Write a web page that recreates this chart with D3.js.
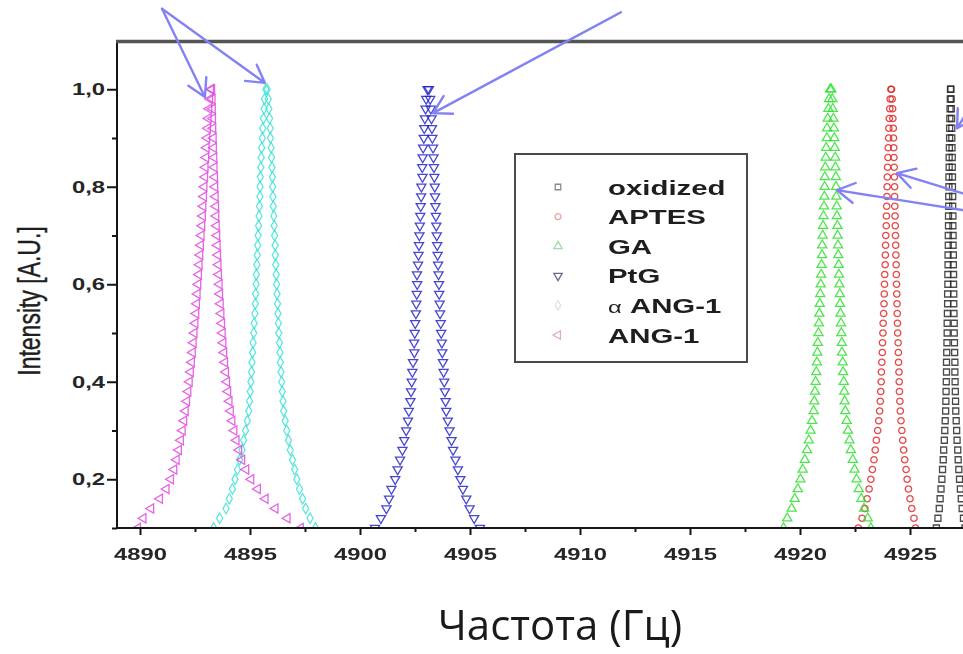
<!DOCTYPE html>
<html>
<head>
<meta charset="utf-8">
<script src="https://cdn.jsdelivr.net/npm/d3@7"></script>
<style>
  body { margin: 0; background: #fff; }
  svg { display: block; }
</style>
</head>
<body>
<div id="chart"></div>
<script>
var intensity = [0.10,0.12,0.14,0.16,0.18,0.20,0.22,0.24,0.26,0.28,0.30,0.32,0.34,0.36,0.38,0.40,
  0.42,0.44,0.46,0.48,0.50,0.52,0.54,0.56,0.58,0.60,0.62,0.64,0.66,0.68,0.70,0.72,0.74,0.76,0.78,
  0.80,0.82,0.84,0.86,0.88,0.90,0.92,0.94,0.96,0.98,1.00];

// frequency (Hz) of the low / high flank at each level
var oxidizedLow = [4926.20,4926.27,4926.33,4926.37,4926.41,4926.45,4926.48,4926.51,4926.53,4926.56,4926.58,4926.60,
  4926.62,4926.63,4926.64,4926.65,4926.66,4926.66,4926.67,4926.68,4926.69,4926.69,4926.70,4926.71,4926.71,4926.72,
  4926.72,4926.73,4926.73,4926.74,4926.74,4926.75,4926.75,4926.76,4926.76,4926.77,4926.77,4926.78,4926.78,4926.79,
  4926.80,4926.80,4926.81,4926.82,4926.83,4926.84];
var oxidizedHigh = [4927.50,4927.43,4927.37,4927.33,4927.29,4927.25,4927.22,4927.19,4927.17,4927.14,4927.12,4927.10,
  4927.08,4927.07,4927.06,4927.05,4927.04,4927.04,4927.03,4927.02,4927.01,4927.01,4927.00,4926.99,4926.99,4926.98,
  4926.98,4926.97,4926.97,4926.96,4926.96,4926.95,4926.95,4926.94,4926.94,4926.93,4926.93,4926.92,4926.92,4926.91,
  4926.90,4926.90,4926.89,4926.88,4926.87,4926.86];

var aptesLow = [4922.65,4922.82,4922.95,4923.05,4923.14,4923.22,4923.29,4923.36,4923.42,4923.47,4923.53,4923.58,
  4923.62,4923.65,4923.67,4923.69,4923.70,4923.72,4923.74,4923.75,4923.77,4923.78,4923.80,4923.82,4923.83,4923.84,
  4923.85,4923.87,4923.88,4923.89,4923.90,4923.92,4923.93,4923.94,4923.95,4923.96,4923.97,4923.98,4924.00,4924.01,
  4924.03,4924.04,4924.06,4924.08,4924.10,4924.13];
var aptesHigh = [4925.25,4925.18,4925.08,4925.00,4924.93,4924.87,4924.82,4924.76,4924.71,4924.67,4924.63,4924.59,
  4924.56,4924.54,4924.52,4924.51,4924.50,4924.48,4924.47,4924.46,4924.44,4924.43,4924.42,4924.41,4924.40,4924.39,
  4924.38,4924.37,4924.36,4924.35,4924.34,4924.33,4924.32,4924.31,4924.30,4924.30,4924.29,4924.28,4924.27,4924.26,
  4924.25,4924.24,4924.22,4924.21,4924.19,4924.16];

var gaLow = [4919.25,4919.42,4919.62,4919.76,4919.90,4920.02,4920.12,4920.22,4920.32,4920.40,4920.48,4920.55,
  4920.62,4920.65,4920.68,4920.71,4920.74,4920.77,4920.79,4920.81,4920.84,4920.86,4920.88,4920.90,4920.92,4920.94,
  4920.96,4920.98,4921.00,4921.01,4921.03,4921.05,4921.07,4921.09,4921.11,4921.12,4921.13,4921.15,4921.17,4921.19,
  4921.22,4921.23,4921.26,4921.29,4921.32,4921.37];
var gaHigh = [4923.22,4923.08,4922.91,4922.79,4922.67,4922.57,4922.48,4922.40,4922.31,4922.25,4922.18,4922.12,
  4922.06,4922.03,4922.01,4921.99,4921.96,4921.94,4921.91,4921.90,4921.88,4921.86,4921.84,4921.82,4921.81,4921.79,
  4921.77,4921.76,4921.74,4921.73,4921.71,4921.70,4921.68,4921.67,4921.65,4921.64,4921.63,4921.61,4921.60,4921.58,
  4921.56,4921.54,4921.52,4921.49,4921.47,4921.42];

var ptgLow = [4900.68,4900.95,4901.20,4901.32,4901.43,4901.60,4901.71,4901.82,4901.93,4902.01,4902.10,4902.18,
  4902.22,4902.29,4902.32,4902.35,4902.38,4902.41,4902.47,4902.46,4902.49,4902.51,4902.54,4902.56,4902.58,4902.60,
  4902.59,4902.64,4902.66,4902.68,4902.70,4902.72,4902.74,4902.76,4902.78,4902.79,4902.84,4902.83,4902.85,4902.87,
  4902.90,4902.92,4902.95,4902.98,4903.01,4903.07];
var ptgHigh = [4905.45,4905.19,4904.98,4904.83,4904.68,4904.56,4904.45,4904.34,4904.23,4904.16,4904.07,4903.99,
  4903.92,4903.89,4903.86,4903.83,4903.80,4903.77,4903.74,4903.72,4903.69,4903.67,4903.64,4903.62,4903.60,4903.59,
  4903.57,4903.55,4903.53,4903.51,4903.49,4903.47,4903.45,4903.43,4903.41,4903.40,4903.38,4903.36,4903.34,4903.32,
  4903.29,4903.27,4903.25,4903.22,4903.19,4903.13];

var aAngLow = [4893.35,4893.62,4893.91,4894.06,4894.20,4894.32,4894.43,4894.53,4894.64,4894.71,4894.80,4894.88,
  4894.94,4894.98,4895.01,4895.04,4895.07,4895.09,4895.12,4895.14,4895.17,4895.19,4895.22,4895.24,4895.26,4895.28,
  4895.29,4895.31,4895.33,4895.35,4895.37,4895.39,4895.41,4895.43,4895.45,4895.46,4895.47,4895.49,4895.51,4895.53,
  4895.56,4895.58,4895.61,4895.64,4895.66,4895.72];
var aAngHigh = [4897.98,4897.73,4897.53,4897.39,4897.25,4897.13,4897.03,4896.93,4896.83,4896.75,4896.67,4896.60,
  4896.53,4896.50,4896.47,4896.44,4896.41,4896.38,4896.36,4896.34,4896.31,4896.29,4896.27,4896.25,4896.23,4896.21,
  4896.19,4896.17,4896.15,4896.14,4896.12,4896.10,4896.08,4896.06,4896.04,4896.03,4896.02,4896.00,4895.98,4895.96,
  4895.93,4895.92,4895.89,4895.86,4895.83,4895.78];

var angLow = [4889.90,4890.15,4890.50,4890.90,4891.20,4891.40,4891.55,4891.66,4891.76,4891.85,4891.93,4892.00,
  4892.07,4892.13,4892.19,4892.25,4892.30,4892.35,4892.39,4892.43,4892.47,4892.51,4892.55,4892.58,4892.61,4892.64,
  4892.67,4892.70,4892.73,4892.76,4892.79,4892.82,4892.85,4892.87,4892.90,4892.92,4892.95,4892.97,4893.00,4893.02,
  4893.05,4893.08,4893.11,4893.14,4893.18,4893.22];
var angHigh = [4897.30,4896.70,4896.15,4895.70,4895.35,4895.05,4894.82,4894.64,4894.50,4894.38,4894.28,4894.19,
  4894.12,4894.06,4894.00,4893.95,4893.90,4893.86,4893.82,4893.78,4893.75,4893.72,4893.69,4893.66,4893.63,4893.61,
  4893.58,4893.56,4893.54,4893.52,4893.50,4893.48,4893.46,4893.45,4893.43,4893.41,4893.40,4893.38,4893.37,4893.35,
  4893.34,4893.32,4893.31,4893.30,4893.29,4893.27];

var seriesNames = ["oxidized", "APTES", "GA", "PtG", "\u03b1 ANG-1", "ANG-1"];
var seriesLow = [oxidizedLow, aptesLow, gaLow, ptgLow, aAngLow, angLow];
var seriesHigh = [oxidizedHigh, aptesHigh, gaHigh, ptgHigh, aAngHigh, angHigh];
var seriesColors = ["#2a2a2a", "#e02828", "#2ee02e", "#2424c8", "#3ee2d6", "#e048e0"];
var legendColors = ["#8a8a8a", "#f0a0a0", "#a8d8a8", "#6a6a8a", "#d8e4f0", "#e0a8c8"];

var xTicks = [4890, 4895, 4900, 4905, 4910, 4915, 4920, 4925];
var xMinor = [4892.5, 4897.5, 4902.5, 4907.5, 4912.5, 4917.5, 4922.5];
var yTicks = [0.2, 0.4, 0.6, 0.8, 1.0];
var yMinor = [0.1, 0.3, 0.5, 0.7, 0.9];

// annotation arrows, tail and tip in data units [freq, intensity]
var arrows = [
  {from: [4891.0, 1.165], to: [4892.95, 0.984]},
  {from: [4891.0, 1.165], to: [4895.68, 1.013]},
  {from: [4911.86, 1.158], to: [4903.32, 0.951]},
  {from: [4928.05, 0.986], to: [4927.14, 0.920]},
  {from: [4929.09, 0.763], to: [4924.41, 0.828]},
  {from: [4929.09, 0.740], to: [4921.68, 0.793]}
];

var width = 963, height = 654;
var plotLeft = 117, plotTop = 42, plotBottom = 528;
var stretch = 1.4;
var font = "'Liberation Sans', Arial, sans-serif";

var x = d3.scaleLinear().domain([4890, 4925]).range([140, 910]);
var y = d3.scaleLinear().domain([0.1, 1.1]).range([528, 40.5]);
var commaFmt = d3.formatLocale({decimal: ",", thousands: ".", grouping: [3], currency: ["", ""]}).format(".1f");

var svg = d3.select("#chart").append("svg")
  .attr("width", width)
  .attr("height", height);

var defs = svg.append("defs");
defs.append("clipPath").attr("id", "plotClip")
  .append("rect")
  .attr("x", plotLeft + 1).attr("y", plotTop)
  .attr("width", width - plotLeft).attr("height", plotBottom - plotTop);
// the scanned original is soft, so the markers get a light blur
defs.append("filter").attr("id", "soft")
  .append("feGaussianBlur").attr("stdDeviation", 0.45);

// markers, one symbol per series (Origin order)
var symbols = [
  {type: d3.symbolSquare, size: 36, rot: 0},
  {type: d3.symbolCircle, size: 32, rot: 0},
  {type: d3.symbolTriangle, size: 36, rot: 0},
  {type: d3.symbolTriangle, size: 36, rot: 180},
  {type: d3.symbolDiamond, size: 32, rot: 0},
  {type: d3.symbolTriangle, size: 36, rot: -90}
];

var plot = svg.append("g").attr("clip-path", "url(#plotClip)")
  .append("g").attr("filter", "url(#soft)");

seriesNames.forEach(function(name, s) {
  var pts = [];
  for (var i = 0; i < intensity.length; i++) {
    pts.push({f: seriesLow[s][i], v: intensity[i]});
    pts.push({f: seriesHigh[s][i], v: intensity[i]});
  }
  var sym = d3.symbol().type(symbols[s].type).size(symbols[s].size);
  plot.append("g")
    .selectAll("path")
    .data(pts)
    .join("path")
      .attr("d", sym)
      .attr("transform", function(d) {
        return "translate(" + x(d.f) + "," + y(d.v) + ") rotate(" + symbols[s].rot + ")";
      })
      .attr("fill", "none")
      .attr("stroke", seriesColors[s])
      .attr("stroke-width", 1.3)
      .attr("stroke-opacity", 0.85);
});

// axes
var gx = svg.append("g").attr("transform", "translate(0," + plotBottom + ")")
  .call(d3.axisBottom(x).tickValues(xTicks).tickSize(7).tickPadding(13).tickFormat(d3.format("d")));
var gxm = svg.append("g").attr("transform", "translate(0," + plotBottom + ")")
  .call(d3.axisBottom(x).tickValues(xMinor).tickSize(4).tickFormat(""));
var gy = svg.append("g").attr("transform", "translate(" + plotLeft + ",0)")
  .call(d3.axisLeft(y).tickValues(yTicks).tickSize(10).tickPadding(2).tickFormat(commaFmt));
var gym = svg.append("g").attr("transform", "translate(" + plotLeft + ",0)")
  .call(d3.axisLeft(y).tickValues(yMinor).tickSize(5).tickFormat(""));

[gx, gxm, gy, gym].forEach(function(g) {
  g.select(".domain").remove();
  g.selectAll("line").attr("stroke", "#151515").attr("stroke-width", 2);
  g.selectAll("text")
    .attr("font-family", font)
    .attr("font-weight", "bold")
    .attr("font-size", 17)
    .attr("fill", "#262626")
    .attr("transform", "scale(" + stretch + ",1)");
});
gy.selectAll("text").attr("x", -12 / stretch);

svg.append("line")
  .attr("x1", plotLeft).attr("x2", width)
  .attr("y1", plotBottom).attr("y2", plotBottom)
  .attr("stroke", "#151515").attr("stroke-width", 2);
svg.append("line")
  .attr("x1", plotLeft).attr("x2", plotLeft)
  .attr("y1", plotTop - 2).attr("y2", plotBottom + 1)
  .attr("stroke", "#151515").attr("stroke-width", 2);
svg.append("line")
  .attr("x1", plotLeft - 1).attr("x2", width)
  .attr("y1", plotTop - 0.5).attr("y2", plotTop - 0.5)
  .attr("stroke", "#555").attr("stroke-width", 3.5);

svg.append("text")
  .attr("transform", "translate(40,301) scale(" + stretch + ",1) rotate(-90)")
  .attr("text-anchor", "middle")
  .attr("font-family", font)
  .attr("font-size", 23)
  .attr("fill", "#1e1e1e")
  .attr("stroke", "#1e1e1e")
  .attr("stroke-width", 0.3)
  .text("Intensity [A.U.]");

// legend
var legend = svg.append("g").attr("class", "legend");
legend.append("rect")
  .attr("x", 515).attr("y", 154)
  .attr("width", 232).attr("height", 208)
  .attr("fill", "#fff")
  .attr("stroke", "#4a4a4a")
  .attr("stroke-width", 2);

legend.selectAll("g.row").data(seriesNames)
  .enter()
  .append("g")
  .attr("class", "row")
  .each(function(d, i) {
    var g = d3.select(this);
    var ry = 187 + i * 29.6;
    g.append("path")
      .attr("d", d3.symbol().type(symbols[i].type).size(symbols[i].size * 0.85))
      .attr("transform", "translate(558," + ry + ") rotate(" + symbols[i].rot + ")")
      .attr("fill", "none")
      .attr("stroke", legendColors[i])
      .attr("stroke-width", 1.3);
    var t = g.append("text")
      .attr("transform", "translate(608," + ry + ") scale(" + stretch + ",1)")
      .attr("dy", "0.36em")
      .attr("font-family", font)
      .attr("font-weight", "bold")
      .attr("font-size", 21)
      .attr("fill", "#1e1e1e");
    if (d.charAt(0) === "\u03b1") {
      t.append("tspan").attr("font-weight", "normal").attr("font-size", 17).text("\u03b1");
      t.append("tspan").text(d.slice(1));
    } else {
      t.text(d);
    }
  });

// annotation arrows
var arrowColor = "#8282f4";
var ann = svg.append("g").attr("class", "arrows");
arrows.forEach(function(a) {
  var x1 = x(a.from[0]), y1 = y(a.from[1]), x2 = x(a.to[0]), y2 = y(a.to[1]);
  var ang = Math.atan2(y1 - y2, x1 - x2);
  var len = 20, spread = Math.PI / 6;
  ann.append("path")
    .attr("d", "M" + x1 + "," + y1 + "L" + x2 + "," + y2 +
      "M" + (x2 + len * Math.cos(ang - spread)) + "," + (y2 + len * Math.sin(ang - spread)) +
      "L" + x2 + "," + y2 +
      "L" + (x2 + len * Math.cos(ang + spread)) + "," + (y2 + len * Math.sin(ang + spread)))
    .attr("fill", "none")
    .attr("stroke", arrowColor)
    .attr("stroke-width", 2.4)
    .attr("stroke-linecap", "round")
    .attr("stroke-linejoin", "round");
});

// x-axis title
svg.append("text")
  .attr("x", 560)
  .attr("y", 640)
  .attr("text-anchor", "middle")
  .attr("font-family", "'Open Sans', 'Noto Sans', sans-serif")
  .attr("font-size", 42)
  .attr("fill", "#1a1a1a")
  .text("Частота (Гц)");
</script>
</body>
</html>
